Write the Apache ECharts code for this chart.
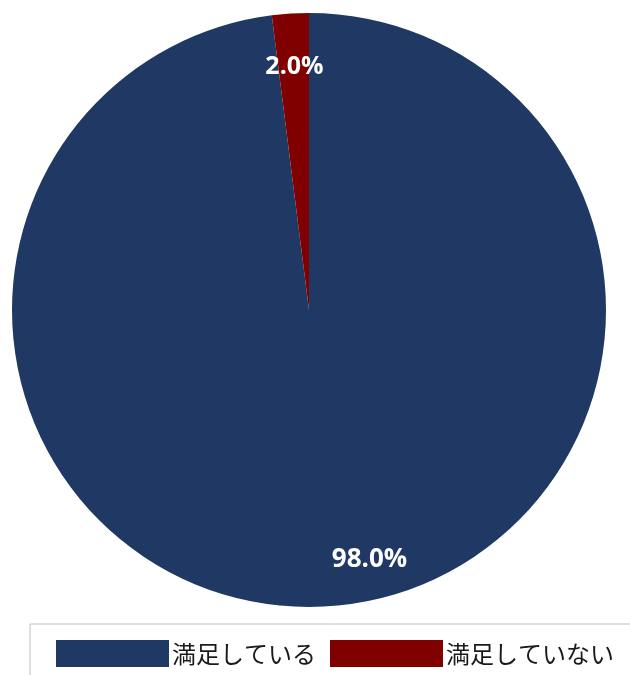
<!DOCTYPE html>
<html><head><meta charset="utf-8">
<script src="https://cdn.jsdelivr.net/npm/echarts@6/dist/echarts.min.js"></script>
<style>html,body{margin:0;padding:0;background:#fff}#c{width:630px;height:675px}</style>
</head><body><div id="c"></div>
<script>
const categories = ['満足している', '満足していない'];
const values = [98.0, 2.0];
const colors = ['#1F3864', '#800000'];
const labelOffsets = [[51, 98], [-5, -92]];
const labelSizes = [26, 25];

const chart = echarts.init(document.getElementById('c'), null, {renderer: 'canvas'});
chart.setOption({
  animation: false,
  legend: {
    left: 30, top: 624,
    width: 800,
    orient: 'horizontal',
    padding: [16, 60, 40, 26],
    itemWidth: 113, itemHeight: 27, itemGap: 14,
    borderColor: '#c0c0c0', borderWidth: 1,
    icon: 'rect',
    textStyle: {fontFamily: '"Noto Sans CJK JP"', fontSize: 24, color: '#1a1a1a', padding: [0,0,0,-2]},
    data: categories
  },
  series: [{
    type: 'pie',
    center: [309, 310],
    radius: [0, 297],
    startAngle: 90,
    clockwise: true,
    label: {show: true, position: 'inside', color: '#fff', fontWeight: 'bold', fontFamily: '"Open Sans"',
      formatter: p => p.value.toFixed(1) + '%'},
    labelLine: {show: false},
    emphasis: {disabled: true},
    data: categories.map((n, i) => ({
      name: n, value: values[i],
      itemStyle: {color: colors[i]},
      label: {offset: labelOffsets[i], fontSize: labelSizes[i]}
    }))
  }]
});
</script></body></html>
